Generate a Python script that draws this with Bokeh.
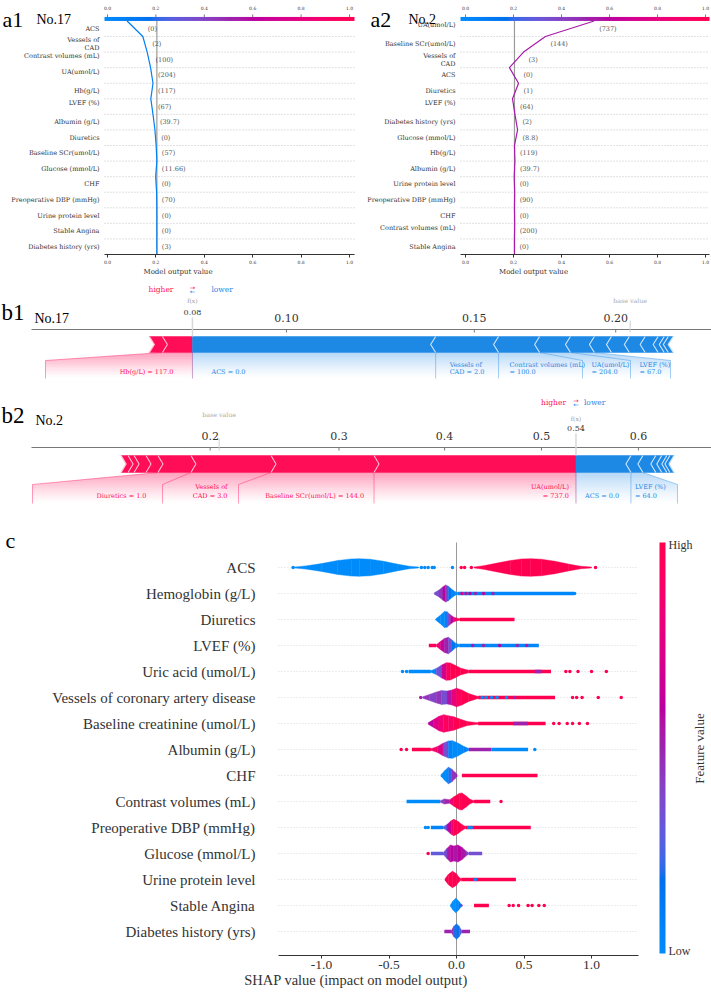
import math
import numpy as np
from bokeh.plotting import figure
from bokeh.layouts import column, row
from bokeh.models import Range1d, FixedTicker, LinearAxis, LinearColorMapper, PrintfTickFormatter
from bokeh.core.properties import value
from bokeh.embed import file_html
from bokeh.resources import INLINE

# ============================ DATA ============================
# ---- a1 / a2 : decision plots (model output = probability) ----
A1_FEATURES = ["ACS", "Vessels of\nCAD", "Contrast volumes (mL)", "UA(umol/L)", "Hb(g/L)", "LVEF (%)",
               "Albumin (g/L)", "Diuretics", "Baseline SCr(umol/L)", "Glucose (mmol/L)", "CHF",
               "Preoperative DBP (mmHg)", "Urine protein level", "Stable Angina", "Diabetes history (yrs)"]
A1_VALUES = ["0", "2", "100", "204", "117", "67", "39.7", "0", "57", "11.66", "0", "70", "0", "0", "3"]
# model output at each row boundary, top -> bottom (last one = base value)
A1_PATH = [0.081, 0.146, 0.164, 0.178, 0.188, 0.179, 0.188, 0.196, 0.201, 0.204, 0.199,
           0.203, 0.204, 0.204, 0.204, 0.204]
A1_FX = 0.081

A2_FEATURES = ["UA(umol/L)", "Baseline SCr(umol/L)", "Vessels of\nCAD", "ACS", "Diuretics", "LVEF (%)",
               "Diabetes history (yrs)", "Glucose (mmol/L)", "Hb(g/L)", "Albumin (g/L)",
               "Urine protein level", "Preoperative DBP (mmHg)", "CHF", "Contrast volumes (mL)",
               "Stable Angina"]
A2_VALUES = ["737", "144", "3", "0", "1", "64", "2", "8.8", "119", "39.7", "0", "90", "0", "200", "0"]
A2_PATH = [0.536, 0.333, 0.242, 0.183, 0.221, 0.196, 0.206, 0.217, 0.204, 0.206, 0.203,
           0.205, 0.204, 0.205, 0.204, 0.204]
A2_FX = 0.536

BASE_VALUE = 0.204
A_TICKS = [0.0, 0.2, 0.4, 0.6, 0.8, 1.0]

# ---- b1 / b2 : force plots (SHAP values in log-odds) ----
B1_FX = 0.081
B1_POS_NAMES = ["Hb(g/L)", "Glucose (mmol/L)"]
B1_POS_SHAP = [0.074, 0.032]
B1_POS_LABELS = ["Hb(g/L) = 117.0"]
B1_NEG_NAMES = ["ACS", "Vessels of CAD", "Contrast volumes (mL)", "UA(umol/L)", "LVEF (%)", "Albumin (g/L)",
                "Diuretics", "Baseline SCr(umol/L)", "CHF", "Preoperative DBP (mmHg)",
                "Urine protein level", "Stable Angina"]
B1_NEG_SHAP = [-0.599, -0.155, -0.101, -0.076, -0.059, -0.042, -0.044, -0.039, -0.032, -0.015, -0.010, -0.012]
B1_NEG_LABELS = ["ACS = 0.0", "Vessels of\nCAD = 2.0", "Contrast volumes (mL)\n= 100.0",
                 "UA(umol/L)\n= 204.0", "LVEF (%)\n= 67.0"]
B1_TICKS = [0.10, 0.15, 0.20]
B1_TICK_LABELS = ["0.10", "0.15", "0.20"]

B2_FX = 0.536
B2_POS_NAMES = ["UA(umol/L)", "Baseline SCr(umol/L)", "Vessels of CAD", "Diuretics",
                "Diabetes history (yrs)", "Glucose (mmol/L)", "Hb(g/L)", "Albumin (g/L)"]
B2_POS_SHAP = [0.845, 0.431, 0.335, 0.138, 0.050, 0.050, 0.025, 0.029]
B2_POS_LABELS = ["UA(umol/L)\n= 737.0", "Baseline SCr(umol/L) = 144.0", "Vessels of\nCAD = 3.0",
                 "Diuretics = 1.0"]
B2_NEG_NAMES = ["ACS", "LVEF (%)", "Urine protein level", "Preoperative DBP (mmHg)", "CHF",
                "Contrast volumes (mL)", "Stable Angina"]
B2_NEG_SHAP = [-0.230, -0.050, -0.054, -0.025, -0.021, -0.013, -0.017]
B2_NEG_LABELS = ["ACS = 0.0", "LVEF (%)\n= 64.0"]
B2_TICKS = [0.2, 0.3, 0.4, 0.5, 0.6]
B2_TICK_LABELS = ["0.2", "0.3", "0.4", "0.5", "0.6"]

# ---- c : SHAP violin summary ----
C_FEATURES = ["ACS", "Hemoglobin (g/L)", "Diuretics", "LVEF (%)", "Uric acid (umol/L)",
              "Vessels of coronary artery disease", "Baseline creatinine (umol/L)", "Albumin (g/L)", "CHF",
              "Contrast volumes (mL)", "Preoperative DBP (mmHg)", "Glucose (mmol/L)", "Urine protein level",
              "Stable Angina", "Diabetes history (yrs)"]
C_TICKS = [-1.0, -0.5, 0.0, 0.5, 1.0]
# violin knots: (shap value, half width in rows, feature value of the interval)
V_ACS = [[(-1.20, .02, 0), (-1.12, .06, 0), (-1.00, .15, 0), (-0.88, .27, 0), (-0.78, .33, 0), (-0.72, .34, 0),
          (-0.64, .32, 0), (-0.54, .24, 0), (-0.44, .13, 0), (-0.35, .05, 0), (-0.28, .02, 0)],
         [(0.13, .02, 1), (0.20, .07, 1), (0.30, .17, 1), (0.40, .27, 1), (0.48, .33, 1), (0.55, .34, 1),
          (0.63, .32, 1), (0.73, .24, 1), (0.83, .13, 1), (0.92, .05, 1), (1.00, .02, 1)]]
V_HB = [[(-0.165, .03, .35), (-0.13, .13, .45), (-0.10, .26, .6), (-0.08, .33, .4), (-0.06, .28, .15),
         (-0.035, .16, .05), (-0.01, .07, 0), (0.01, .04, 0)]]
V_DIU = [[(-0.155, .02, 0), (-0.12, .16, 0), (-0.09, .31, .05), (-0.07, .30, .35), (-0.045, .18, .6),
          (-0.02, .09, .85), (0.0, .06, 1), (0.025, .03, 1)]]
V_LVEF = [[(-0.15, .03, .85), (-0.12, .15, .65), (-0.09, .27, .5), (-0.06, .32, .35), (-0.035, .22, .15),
           (-0.01, .10, 0), (0.02, .04, 0)]]
V_UA = [[(-0.19, .03, .05), (-0.15, .12, .35), (-0.11, .25, .7), (-0.075, .34, .95), (-0.045, .33, 1),
         (-0.01, .24, 1), (0.03, .13, 1), (0.09, .05, 1)]]
V_VES = [[(-0.25, .03, .45), (-0.20, .12, .4), (-0.15, .21, .45), (-0.11, .27, .35), (-0.07, .25, .55),
          (-0.035, .29, .8), (0.0, .36, .95), (0.04, .29, 1), (0.09, .15, 1), (0.16, .04, 1)]]
V_SCR = [[(-0.21, .03, .6), (-0.17, .15, .75), (-0.13, .28, .85), (-0.095, .34, .95), (-0.06, .30, .9),
          (-0.02, .26, 1), (0.02, .18, 1), (0.08, .08, 1), (0.16, .03, 1)]]
V_ALB = [[(-0.19, .03, .9), (-0.14, .12, .75), (-0.10, .24, .35), (-0.06, .33, .05), (-0.03, .34, 0),
          (0.01, .25, 0), (0.05, .13, .05), (0.09, .04, .1)]]
V_CHF = [[(-0.115, .03, 0), (-0.085, .20, 0), (-0.06, .32, .2), (-0.035, .25, .45), (-0.01, .12, .5),
          (0.005, .03, .5)]]
V_CON = [[(-0.12, .03, .4), (-0.09, .10, .5), (-0.05, .07, .85), (-0.02, .18, 1), (0.02, .31, 1),
          (0.04, .33, 1), (0.07, .22, 1), (0.10, .09, 1), (0.13, .03, 1)]]
V_DBP = [[(-0.10, .03, .3), (-0.07, .12, .6), (-0.04, .26, .9), (-0.02, .32, 1), (0.01, .24, 1),
          (0.04, .12, 1), (0.065, .04, 1)]]
V_GLU = [[(-0.10, .03, .35), (-0.07, .20, .55), (-0.045, .33, .6), (-0.02, .29, .55), (0.01, .33, .6),
          (0.04, .24, .55), (0.07, .10, .4), (0.09, .03, .3)]]
V_URI = [[(-0.085, .03, 1), (-0.06, .20, 1), (-0.03, .32, 1), (0.0, .22, 1), (0.02, .08, 1), (0.035, .03, 1)]]
V_STA = [[(-0.045, .03, 0), (-0.025, .18, 0), (-0.005, .28, 0), (0.015, .18, .1), (0.035, .05, .5),
          (0.045, .02, .5)]]
V_DIA = [[(-0.04, .03, .45), (-0.02, .20, .2), (0.0, .30, .15), (0.02, .20, .25), (0.04, .03, .45)]]
# dense point runs: (from, to, feature value)
T_ACS = []
T_HB = [(0.01, 0.87, 0.02)]
T_DIU = [(0.025, 0.43, 1)]
T_LVEF = [(-0.205, -0.15, 0.95), (0.02, 0.61, 0.03)]
T_UA = [(-0.355, -0.19, 0), (0.09, 0.70, 1), (0.58, 0.63, 0.5)]
T_VES = [(0.16, 0.73, 1)]
T_SCR = [(0.16, 0.66, 1), (0.42, 0.53, 0.5)]
T_ALB = [(-0.33, -0.19, 1), (0.09, 0.26, 0.5), (0.26, 0.53, 0)]
T_CHF = [(0.04, 0.60, 1)]
T_CON = [(-0.37, -0.12, 0), (0.13, 0.25, 1)]
T_DBP = [(-0.19, -0.10, 0.05), (0.065, 0.55, 1)]
T_GLU = [(-0.19, -0.10, 0.3), (0.09, 0.19, 0.35)]
T_URI = [(0.035, 0.44, 1)]
T_STA = [(0.13, 0.24, 1)]
T_DIA = [(-0.09, -0.04, 0.5), (0.04, 0.10, 0.5)]
# isolated points: (shap value, feature value)
D_ACS = [(-1.21, 0), (-0.26, 0), (-0.235, 0), (-0.21, 0), (-0.18, 0), (-0.165, 0), (-0.03, 0),
         (0.035, 1), (0.06, 1), (0.11, 1), (1.03, 1)]
D_HB = [(0.04, 0.75), (0.07, 0.55), (0.10, 0.6), (0.14, 0.5), (0.20, 0.65), (0.27, 0.5), (0.875, 0)]
D_DIU = []
D_LVEF = [(0.12, 0.55), (0.20, 0.5), (0.32, 0.6), (0.45, 0.5), (0.52, 0.55)]
D_UA = [(-0.40, 0), (-0.37, 0), (0.81, 1), (0.84, 1), (0.90, 1), (1.00, 1), (1.11, 1)]
D_VES = [(-0.265, 0.5), (0.19, 0), (0.22, 0), (0.26, 0), (0.30, 0), (0.37, 0), (0.43, 0.5),
         (0.86, 1), (0.89, 1), (0.93, 1), (1.05, 1), (1.22, 1)]
D_SCR = [(0.72, 1), (0.76, 1), (0.82, 1), (0.86, 1), (0.91, 1), (0.97, 1)]
D_ALB = [(-0.41, 1), (-0.37, 1), (0.58, 0)]
D_CHF = []
D_CON = [(0.33, 1)]
D_DBP = [(-0.23, 0), (-0.21, 0), (0.09, 0), (0.11, 0)]
D_GLU = [(-0.21, 1)]
D_URI = [(0.14, 0)]
D_STA = [(0.39, 1), (0.42, 1), (0.46, 1), (0.53, 1), (0.56, 1), (0.61, 1), (0.65, 1)]
D_DIA = []

C_VIOLINS = [V_ACS, V_HB, V_DIU, V_LVEF, V_UA, V_VES, V_SCR, V_ALB, V_CHF, V_CON, V_DBP, V_GLU, V_URI, V_STA, V_DIA]
C_TAILS = [T_ACS, T_HB, T_DIU, T_LVEF, T_UA, T_VES, T_SCR, T_ALB, T_CHF, T_CON, T_DBP, T_GLU, T_URI, T_STA, T_DIA]
C_DOTS = [D_ACS, D_HB, D_DIU, D_LVEF, D_UA, D_VES, D_SCR, D_ALB, D_CHF, D_CON, D_DBP, D_GLU, D_URI, D_STA, D_DIA]

# ============================ STYLE / LAYOUT ============================
SERIF_S = "DejaVu Serif"
SERIF_T = "Liberation Serif"
RED, RED_LIGHT = "#FF0D57", "#FFC3D5"
BLUE, BLUE_LIGHT = "#1E88E5", "#D1E6FA"


def lch_to_hex(l, c, h):
    a, b = c * math.cos(h), c * math.sin(h)
    fy = (l + 16) / 116
    fx, fz = fy + a / 500, fy - b / 200

    def finv(t):
        return t ** 3 if t ** 3 > 0.008856 else (t - 16 / 116) / 7.787
    X, Y, Z = 0.95047 * finv(fx), finv(fy), 1.08883 * finv(fz)
    rgb = [3.2406 * X - 1.5372 * Y - 0.4986 * Z,
           -0.9689 * X + 1.8758 * Y + 0.0415 * Z,
           0.0557 * X - 0.2040 * Y + 1.0570 * Z]
    out = []
    for v in rgb:
        v = 1.055 * v ** (1 / 2.4) - 0.055 if v > 0.0031308 else 12.92 * v
        out.append(int(round(min(max(v, 0.0), 1.0) * 255)))
    return "#%02x%02x%02x" % tuple(out)


def make_palette(n=256):
    pal = []
    h0, h1 = 4.6588, 0.35470565 + 2 * math.pi
    for t in np.linspace(0, 1, n):
        l = 54 + (40 - 54) * 2 * t if t < 0.5 else 40 + (54 - 40) * (2 * t - 1)
        pal.append(lch_to_hex(l, 70 + 20 * t, h0 + (h1 - h0) * t))
    return pal


PALETTE = make_palette()


def cmap(v):
    return PALETTE[int(round(min(max(v, 0.0), 1.0) * 255))]


def logit(p):
    return math.log(p / (1 - p))


def canvas(w, h, xr, yr, border_bottom=0):
    p = figure(width=w, height=h, x_range=Range1d(*xr), y_range=Range1d(*yr), output_backend="svg",
               toolbar_location=None, title=None, x_axis_location=None, y_axis_location=None,
               min_border_left=0, min_border_right=0, min_border_top=0, min_border_bottom=border_bottom)
    p.outline_line_color = None
    p.background_fill_color = "white"
    p.border_fill_color = "white"
    p.xgrid.grid_line_color = None
    p.ygrid.grid_line_color = None
    p.xgrid.visible = False
    p.ygrid.visible = False
    return p


def txt(p, xs, ys, texts, size, color="#333333", font=SERIF_S, align="left", baseline="middle",
        angle=0.0, xoff=0):
    if not isinstance(xs, (list, tuple)):
        xs, ys, texts = [xs], [ys], [texts]
    p.text(x=list(xs), y=list(ys), text=list(texts), text_font=value(font), text_font_size=value(size),
           text_color=color, text_align=align, text_baseline=baseline, angle=angle, x_offset=xoff)


# ---------------------------- decision panels ----------------------------
A_ROW = 15.57      # px per row
A_AXIS_Y = 254.0   # y of the x axis inside the top row
A_H = 280
RAISED = {"Contrast volumes (mL)", "UA(umol/L)", "LVEF (%)"}


def decision_panel(features, values, path, fx, tag, sample, x_left, w_px, px0, ppu, bounds,
                   tag_x, sample_x):
    def xd(rx):
        return (rx - px0) / ppu

    def yd(ry):
        return (A_AXIS_Y - ry) / A_ROW
    border = A_H - int(A_AXIS_Y)
    p = canvas(w_px, A_H, (xd(x_left), xd(x_left + w_px)), (0, yd(0)), border)
    n = len(features)
    gy = list(range(1, n))
    p.segment(x0=[bounds[0]] * len(gy), y0=gy, x1=[bounds[1]] * len(gy), y1=gy,
              line_color="#b5b5b5", line_dash="1 2", line_width=0.8)
    p.segment(x0=[BASE_VALUE], y0=[0], x1=[BASE_VALUE], y1=[n], line_color="#9a9a9a", line_width=1.2)
    cb_h = 4.0 / A_ROW
    p.image(image=[np.linspace(0, 1, 256).reshape(1, 256)], x=bounds[0], y=n, dw=bounds[1] - bounds[0],
            dh=cb_h, color_mapper=LinearColorMapper(palette=PALETTE, low=0, high=1))
    nt = len(A_TICKS)
    p.segment(x0=A_TICKS, y0=[n + cb_h] * nt, x1=A_TICKS, y1=[n + cb_h + 2.5 / A_ROW] * nt,
              line_color="#444444", line_width=0.7)
    txt(p, A_TICKS, [yd(7.5)] * nt, ["%.1f" % t for t in A_TICKS], "4.5px", align="center")
    p.line(x=path, y=[n - j for j in range(n + 1)], line_color=cmap(fx), line_width=1.2)
    nx, ny, nt_ = [], [], []
    for i, f in enumerate(features):
        yc = n - i - 0.5
        if "\n" in f:
            a, b = f.split("\n")
            nx += [bounds[0], bounds[0]]
            ny += [yc + 4 / A_ROW, yc - 4 / A_ROW]
            nt_ += [a, b]
        else:
            nx.append(bounds[0])
            ny.append(yc + (3.5 / A_ROW if f in RAISED else 0))
            nt_.append(f)
    txt(p, nx, ny, nt_, "6.5px", align="right", xoff=-5)
    vx = [max(path[i], path[i + 1]) for i in range(n)]
    vy = [n - i - 0.5 for i in range(n)]
    txt(p, vx, vy, ["(%s)" % v for v in values], "6.5px", color="#555555", xoff=5)
    txt(p, xd(tag_x), yd(18.5), tag, "22px", color="black", font=SERIF_T, baseline="alphabetic")
    txt(p, xd(sample_x), yd(18.5), sample, "14px", color="black", font=SERIF_T, baseline="alphabetic")
    ax = LinearAxis(ticker=FixedTicker(ticks=A_TICKS), formatter=PrintfTickFormatter(format="%.1f"),
                    bounds=bounds, axis_label="Model output value")
    ax.axis_line_color = "#333333"
    ax.major_tick_line_color = "#333333"
    ax.major_tick_out = 3
    ax.major_tick_in = 0
    ax.minor_tick_out = 0
    ax.minor_tick_in = 0
    ax.major_label_text_font = SERIF_S
    ax.major_label_text_font_size = "4.5px"
    ax.major_label_text_color = "#333333"
    ax.major_label_standoff = 2
    ax.axis_label_text_font = SERIF_S
    ax.axis_label_text_font_size = "7px"
    ax.axis_label_text_font_style = "normal"
    ax.axis_label_text_color = "#333333"
    ax.axis_label_standoff = 1
    p.add_layout(ax, "below")
    return p


# ---------------------------- force panels ----------------------------
def region(p, color, alpha0, seg_in, seg_out, box_in, box_out, yb, yc, ye, nstrip=16):
    def edge(seg, box, y):
        t = min(1.0, (y - yb) / (yc - yb))
        return seg + (box - seg) * t
    levels = sorted(set([float(v) for v in np.linspace(yb, ye, nstrip + 1)] + [float(yc)]))
    xs, ys, al = [], [], []
    for ya, yz in zip(levels[:-1], levels[1:]):
        xs.append([edge(seg_in, box_in, ya), edge(seg_out, box_out, ya),
                   edge(seg_out, box_out, yz), edge(seg_in, box_in, yz)])
        ys.append([ya, ya, yz, yz])
        tm = ((ya + yz) / 2 - yb) / (ye - yb)
        al.append(alpha0 * (1 - tm) ** 1.3)
    p.patches(xs, ys, fill_color=color, fill_alpha=al, line_color=None)


def force_panel(fx, pos_shap, pos_labels, pos_box_px, pos_off, neg_shap, neg_labels, neg_box_px, neg_off,
                ticks, tick_labels, px_l0, ppu, y_top, y_bot, Y, tag, sample, hl_off):
    def L(rx):
        return (rx - px_l0) / ppu
    p = canvas(711, int(y_bot - y_top), (L(0), L(711)), (y_bot, y_top))
    lf = logit(fx)
    ind = 5.0 / ppu
    rb = [lf]
    for s in pos_shap:
        rb.append(rb[-1] - s)
    bb = [lf]
    for s in neg_shap:
        bb.append(bb[-1] + abs(s))
    base = lf - sum(pos_shap) - sum(neg_shap)
    top, bot = Y["bar_top"], Y["bar_bot"]
    mid = (top + bot) / 2
    yb, yc, ye = bot, Y["conn"], Y["reg_bot"]

    # label regions
    for color, bnds, labels, boxes, offs, sign in ((RED, rb, pos_labels, pos_box_px, pos_off, 1),
                                                    (BLUE, bb, neg_labels, neg_box_px, neg_off, -1)):
        seg_in, box_in = lf, lf
        for k, lab in enumerate(labels):
            seg_out = bnds[k + 1]
            box_out = seg_out if boxes[k] is None else L(boxes[k])
            region(p, color, 0.42 if sign == 1 else 0.34, seg_in, seg_out, box_in, box_out, yb, yc, ye)
            p.line([seg_out, box_out, box_out], [yb, yc, ye], line_color=color, line_alpha=0.5, line_width=0.8)
            lines = lab.split("\n")
            ly = [Y["lab1"], Y["lab2"]] if len(lines) == 2 else [Y["lab2"]]
            txt(p, [box_in] * len(lines), ly, lines, "6.5px", color=color,
                align="right" if sign == 1 else "left", xoff=-offs[k] if sign == 1 else offs[k])
            seg_in, box_in = seg_out, box_out
    p.line([lf, lf], [yb, ye], line_color=RED, line_alpha=0.4, line_width=0.8)
    p.line([lf, lf], [yb, ye], line_color=BLUE, line_alpha=0.3, line_width=0.8)

    # bars
    xs, ys = [], []
    for j in range(len(pos_shap)):
        r, l = rb[j], rb[j + 1]
        if j == 0:
            xs.append([l, r, r, l, l + ind]); ys.append([top, top, bot, bot, mid])
        else:
            xs.append([l, r, r + ind, r, l, l + ind]); ys.append([top, top, mid, bot, bot, mid])
    p.patches(xs, ys, fill_color=RED, line_color=RED, line_width=0.5)
    xs, ys = [], []
    for j in range(len(neg_shap)):
        l, r = bb[j], bb[j + 1]
        if j == 0:
            xs.append([l, r, r - ind, r, l]); ys.append([top, top, mid, bot, bot])
        else:
            xs.append([l, r, r - ind, r, l, l - ind]); ys.append([top, top, mid, bot, bot, mid])
    p.patches(xs, ys, fill_color=BLUE, line_color=BLUE, line_width=0.5)
    p.multi_line([[x, x + ind, x] for x in rb[1:]], [[top, mid, bot]] * (len(rb) - 1),
                 line_color=RED_LIGHT, line_width=1.1)
    p.multi_line([[x, x - ind, x] for x in bb[1:]], [[top, mid, bot]] * (len(bb) - 1),
                 line_color=BLUE_LIGHT, line_width=1.1)

    # axis (drawn on the log-odds scale, labelled with probabilities)
    p.segment(x0=[L(31)], y0=[Y["axis"]], x1=[L(711)], y1=[Y["axis"]], line_color="#777777", line_width=1)
    tl = [logit(t) for t in ticks]
    p.segment(x0=tl, y0=[Y["axis"]] * len(tl), x1=tl, y1=[Y["axis"] + 3] * len(tl),
              line_color="#777777", line_width=1)
    txt(p, tl, [Y["ticklab"]] * len(tl), tick_labels, "11px", align="center")
    p.segment(x0=[lf], y0=[Y["fxval"] + 5], x1=[lf], y1=[top], line_color="#d9d9d9", line_width=1.5)
    p.segment(x0=[base], y0=[Y["ticklab"] + 3], x1=[base], y1=[Y["axis"] + 3], line_color="#cfcfcf",
              line_width=1)
    txt(p, lf, Y["fxlab"], "f(x)", "6px", color="#999999", align="center")
    txt(p, lf, Y["fxval"], "%.2f" % fx, "8px", color="#333333", align="center")
    txt(p, base, Y["baselab"], "base value", "6.3px", color="#aaaaaa", align="center")
    txt(p, lf, Y["hl"], "higher", "7.5px", color=RED, align="right", xoff=-hl_off[0])
    txt(p, lf, Y["hl"], "lower", "7.5px", color=BLUE, align="left", xoff=hl_off[1])
    txt(p, lf, Y["hl"] - 1.8, "\u2192", "6.5px", color=RED, align="center", font="DejaVu Sans")
    txt(p, lf, Y["hl"] + 2.2, "\u2190", "6.5px", color=BLUE, align="center", font="DejaVu Sans")
    txt(p, L(1), Y["tag"], tag, "23px", color="black", font=SERIF_T, baseline="alphabetic")
    txt(p, L(Y["sample_x"]), Y["sample"], sample, "14px", color="black", font=SERIF_T, baseline="alphabetic")
    return p


# ============================ BUILD ============================
a1 = decision_panel(A1_FEATURES, A1_VALUES, A1_PATH, A1_FX, "a1", "No.17", 0, 355, 107.0, 242.0,
                    (-0.0124, 1.0207), 2, 36)
a2 = decision_panel(A2_FEATURES, A2_VALUES, A2_PATH, A2_FX, "a2", "No.2", 355, 356, 465.0, 240.0,
                    (-0.0208, 1.0167), 370, 408)

B1_Y = dict(hl=289, fxlab=300, baselab=300, fxval=312, ticklab=317, axis=329, bar_top=336, bar_bot=352,
            conn=360, lab1=364, lab2=371, reg_bot=378, tag=312, sample=318, sample_x=34)
B2_Y = dict(hl=402, fxlab=418, baselab=414, fxval=428, ticklab=435, axis=447, bar_top=455, bar_bot=472,
            conn=484, lab1=486, lab2=495, reg_bot=503, tag=415, sample=420, sample_x=35)

b1 = force_panel(B1_FX, B1_POS_SHAP, B1_POS_LABELS, [45], [19],
                 B1_NEG_SHAP, B1_NEG_LABELS, [None, None, 582, 630, 670], [19, 14, 11, 9, 9],
                 B1_TICKS, B1_TICK_LABELS, 286 + 406 * 2.1972, 406.0, 280, 395, B1_Y, "b1", "No.17",
                 (19, 19))
b2 = force_panel(B2_FX, B2_POS_SHAP, B2_POS_LABELS, [None, 238, 162, 32], [7, 10, 11, 16],
                 B2_NEG_SHAP, B2_NEG_LABELS, [None, 677], [9, 4],
                 B2_TICKS, B2_TICK_LABELS, 541.0, 239.0, 395, 512, B2_Y, "b2", "No.2", (10, 8))

# ---- c ----
C_ROW = 26.0
C_LAST = 931.0
C_PX0, C_PPU = 456.0, 135.0
C_TOP = 512.0
C_H = 480
C_BORDER = 37
c_frame_bot = C_TOP + (C_H - C_BORDER)


def cy(ry):
    return (C_LAST - ry) / C_ROW


def cx(rx):
    return (rx - C_PX0) / C_PPU


c = canvas(711, C_H, (cx(0), cx(711)), (cy(c_frame_bot), cy(C_TOP)), C_BORDER)
nC = len(C_FEATURES)
C_BOUNDS = (cx(278), cx(638))
rows_y = [nC - 1 - i for i in range(nC)]
c.segment(x0=[C_BOUNDS[0]] * nC, y0=rows_y, x1=[C_BOUNDS[1]] * nC, y1=rows_y,
          line_color="#d0d0d0", line_dash="1 2", line_width=0.8)
c.segment(x0=[0], y0=[cy(c_frame_bot)], x1=[0], y1=[cy(542)], line_color="#999999", line_width=1)
TH = 0.065
ql, qr, qt, qb, qc = [], [], [], [], []
for i in range(nC):
    for (x0, x1, v) in C_TAILS[i]:
        ql.append(x0); qr.append(x1); qt.append(rows_y[i] + TH); qb.append(rows_y[i] - TH); qc.append(cmap(v))
c.quad(left=ql, right=qr, top=qt, bottom=qb, fill_color=qc, line_color=None)
pxs, pys, pcs = [], [], []
for i in range(nC):
    y = rows_y[i]
    for knots in C_VIOLINS[i]:
        for (x0, h0, v0), (x1, h1, _) in zip(knots[:-1], knots[1:]):
            pxs.append([x0, x1, x1, x0])
            pys.append([y + h0, y + h1, y - h1, y - h0])
            pcs.append(cmap(v0))
c.patches(pxs, pys, fill_color=pcs, line_color=pcs, line_width=0.4)
dx, dy, dc = [], [], []
for i in range(nC):
    for (x, v) in C_DOTS[i]:
        dx.append(x); dy.append(rows_y[i]); dc.append(cmap(v))
c.scatter(x=dx, y=dy, size=3.5, fill_color=dc, line_color=None)
txt(c, [cx(255)] * nC, rows_y, C_FEATURES, "15px", font=SERIF_T, align="right")
txt(c, cx(5), cy(540), "c", "22px", color="black", font=SERIF_T, baseline="alphabetic")
c.image(image=[np.linspace(0, 1, 256).reshape(256, 1)], x=cx(659), y=cy(953), dw=cx(665) - cx(659),
        dh=cy(542) - cy(953), color_mapper=LinearColorMapper(palette=PALETTE, low=0, high=1))
txt(c, cx(668), cy(544), "High", "12px", font=SERIF_T)
txt(c, cx(668), cy(950), "Low", "12px", font=SERIF_T)
txt(c, cx(699), cy(748), "Feature value", "13px", font=SERIF_T, align="center", angle=math.pi / 2)
cax = LinearAxis(ticker=FixedTicker(ticks=C_TICKS), formatter=PrintfTickFormatter(format="%.1f"),
                 bounds=C_BOUNDS, axis_label="SHAP value (impact on model output)")
cax.axis_line_color = "#333333"
cax.major_tick_line_color = "#333333"
cax.major_tick_out = 3
cax.major_tick_in = 0
cax.minor_tick_out = 0
cax.minor_tick_in = 0
cax.major_label_text_font = SERIF_T
cax.major_label_text_font_size = "13.5px"
cax.major_label_text_color = "#333333"
cax.major_label_standoff = 2
cax.axis_label_text_font = SERIF_T
cax.axis_label_text_font_size = "14.5px"
cax.axis_label_text_font_style = "normal"
cax.axis_label_text_color = "#333333"
cax.axis_label_standoff = 0
c.add_layout(cax, "below")

layout = column(row(a1, a2), b1, b2, c)
open("out.html", "w").write(file_html(layout, INLINE))
